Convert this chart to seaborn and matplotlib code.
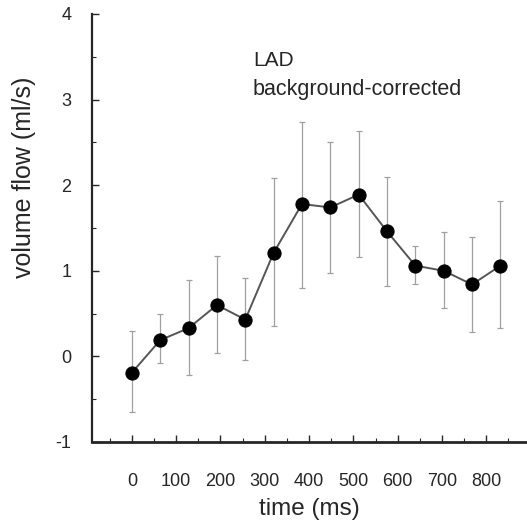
import numpy as np
import pandas as pd
import matplotlib
matplotlib.use("Agg")
import matplotlib.pyplot as plt
import seaborn as sns
from matplotlib.ticker import MultipleLocator

# ------------------------------------
# DATA
# ------------------------------------

time_ms = [0, 64, 128, 192, 256, 320, 384, 448, 512, 576, 640, 704, 768, 832]
flow = [-0.19, 0.19, 0.33, 0.60, 0.43, 1.21, 1.78, 1.74, 1.89, 1.46, 1.06, 1.00, 0.84, 1.06]
err_low = [-0.65, -0.08, -0.22, 0.04, -0.04, 0.36, 0.80, 0.98, 1.16, 0.82, 0.84, 0.57, 0.29, 0.33]
err_high = [0.30, 0.49, 0.89, 1.17, 0.92, 2.08, 2.74, 2.51, 2.63, 2.09, 1.29, 1.45, 1.40, 1.81]

x_ticks = [0, 100, 200, 300, 400, 500, 600, 700, 800]
y_ticks = [-1, 0, 1, 2, 3, 4]

df = pd.DataFrame({"time": time_ms, "flow": flow, "low": err_low, "high": err_high})

# ------------------------------------
# PLOT
# ------------------------------------

sns.set_style("ticks")
plt.rcParams["font.family"] = ["Liberation Sans", "DejaVu Sans"]
plt.rcParams["axes.unicode_minus"] = False

fig = plt.figure(figsize=(5.27, 5.24), dpi=100)
ax = fig.add_axes([0.1746, 0.1565, 0.8254, 0.8168])

yerr = np.array([df["flow"] - df["low"], df["high"] - df["flow"]])
ax.errorbar(df["time"], df["flow"], yerr=yerr, fmt="none",
            ecolor="#a0a0a0", elinewidth=0.9, capsize=2.5, capthick=0.9, zorder=1)

sns.lineplot(data=df, x="time", y="flow", ax=ax, color="#555555",
             linewidth=1.4, marker="o", markersize=9.5, markerfacecolor="black",
             markeredgecolor="black", zorder=3)

ax.set_xlim(-90, 892)
ax.set_ylim(-1, 4)
ax.set_xticks(x_ticks)
ax.set_yticks(y_ticks)
ax.xaxis.set_minor_locator(MultipleLocator(50))
ax.yaxis.set_minor_locator(MultipleLocator(0.5))
ax.tick_params(axis="x", which="major", direction="in", length=5, width=1,
               labelsize=13, pad=22)
ax.tick_params(axis="y", which="major", direction="in", length=5, width=1,
               labelsize=13, pad=15)
ax.tick_params(which="minor", direction="in", length=3, width=0.8)

for side in ["top", "right"]:
    ax.spines[side].set_visible(False)
ax.spines["left"].set_linewidth(1.6)
ax.spines["bottom"].set_linewidth(2.0)

ax.set_xlabel("time (ms)", fontsize=17.5, labelpad=6)
ax.set_ylabel("volume flow (ml/s)", fontsize=18)
ax.yaxis.set_label_coords(-0.128, 0.619)

fig.text(253 / 527, 1 - 60 / 524, "LAD", fontsize=15, va="center", ha="left")
fig.text(253 / 527, 1 - 90 / 524, "background-corrected", fontsize=15.5,
         va="center", ha="left")

plt.savefig("out.png", dpi=100)
plt.close()
